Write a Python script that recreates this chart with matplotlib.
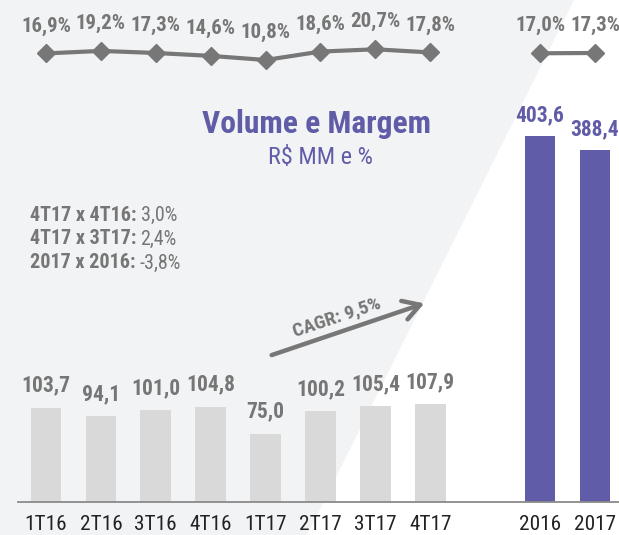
import matplotlib
matplotlib.use("Agg")
import matplotlib.pyplot as plt
from matplotlib.patches import Polygon, FancyArrowPatch
import numpy as np

plt.rcParams['font.family'] = ['Roboto Condensed', 'Roboto', 'DejaVu Sans']

# ---- data ----
quarters = ["1T16", "2T16", "3T16", "4T16", "1T17", "2T17", "3T17", "4T17"]
quarter_volume = [103.7, 94.1, 101.0, 104.8, 75.0, 100.2, 105.4, 107.9]
quarter_margin = [16.9, 19.2, 17.3, 14.6, 10.8, 18.6, 20.7, 17.8]
years = ["2016", "2017"]
year_volume = [403.6, 388.4]
year_margin = [17.0, 17.3]
comparisons = [("4T17 x 4T16:", "3,0%"), ("4T17 x 3T17:", "2,4%"), ("2017 x 2016:", "-3,8%")]
cagr_label = "CAGR: 9,5%"
title = "Volume e Margem"
subtitle = "R$ MM e %"

def br(v, fmt="{:.1f}"):
    return fmt.format(v).replace(".", ",")

GRAY_TXT = "#767676"
PURPLE = "#605ca8"
BAR_GRAY = "#d9d9d9"
BG = "#f2f3f5"

W, H = 619, 535
fig = plt.figure(figsize=(W / 100, H / 100), dpi=100)
fig.patch.set_facecolor("white")

def fx(px):
    return px / W

def fy(py):
    return 1 - py / H

# layout constants (pixels)
X0, DX = 46.0, 54.9          # first category centre, category spacing
BASE, PPU = 501.7, 0.906     # baseline y, pixels per volume unit

ax = fig.add_axes([0, 0, 1, 1])
ax.set_facecolor("none")
ax.set_xlim(-X0 / DX, (W - X0) / DX)
ax.set_ylim(-(H - BASE) / PPU, BASE / PPU)
ax.axis("off")

# background diagonal panel
poly = Polygon([(0, 1), (fx(574), 1), (fx(307), 0), (0, 0)], closed=True,
               transform=fig.transFigure, facecolor=BG, edgecolor="none", zorder=0)
ax.add_patch(poly)

qx = np.arange(len(quarters))
yx = np.array([9, 10])

ax.bar(qx, quarter_volume, width=0.56, color=BAR_GRAY, zorder=2)
ax.bar(yx, year_volume, width=0.56, color=PURPLE, zorder=2)

# baseline
ax.plot([(18 - X0) / DX, (W - X0) / DX], [0, 0], color="#8a8a8a", lw=1.3, zorder=3)

for x, v in zip(qx, quarter_volume):
    ax.annotate(br(v), (x, v), xytext=(0, 11.5), textcoords="offset points",
                ha="center", va="baseline", fontsize=15.5, fontweight="bold", color=GRAY_TXT)
for x, v in zip(yx, year_volume):
    ax.annotate(br(v), (x, v), xytext=(0, 10.5), textcoords="offset points",
                ha="center", va="baseline", fontsize=15.5, fontweight="bold", color=PURPLE)

for x, lab in zip(list(qx) + list(yx), quarters + years):
    ax.annotate(lab, (x, 0), xytext=(0, -23.2), textcoords="offset points",
                ha="center", va="bottom", fontsize=15.3, color="#222222")

# margin line on a second axis
ax2 = fig.add_axes([0, 0, 1, 1], sharex=ax)
ax2.set_facecolor("none")
ax2.axis("off")
MY, MPPU = 49.3, 1.08
ax2.set_ylim(20.7 - (H - MY) / MPPU, 20.7 + MY / MPPU)
lc = "#777777"
ax2.plot(qx, quarter_margin, color=lc, lw=3, marker="D", ms=9, zorder=4)
ax2.plot(yx, year_margin, color=lc, lw=3, marker="D", ms=9, zorder=4)
for x, v in zip(list(qx) + list(yx), quarter_margin + year_margin):
    ax2.annotate(br(v) + "%", (x, v), xytext=(0, 15.8), textcoords="offset points",
                 ha="center", va="baseline", fontsize=15, fontweight="bold", color=GRAY_TXT)

# titles
fig.text(fx(316), fy(133), title, ha="center", va="baseline", fontsize=22.7,
         fontweight="bold", color=PURPLE)
fig.text(fx(320.5), fy(164), subtitle, ha="center", va="baseline", fontsize=17.5,
         color=PURPLE)

# comparison block
fig.canvas.draw()
for i, (lab, val) in enumerate(comparisons):
    yy = fy(220.5 + 24 * i)
    t = fig.text(fx(30), yy, lab, ha="left", va="baseline", fontsize=14.5,
                 fontweight="bold", color=GRAY_TXT)
    bb = t.get_window_extent(renderer=fig.canvas.get_renderer())
    fig.text((bb.x1 + 4) / W, yy, val, ha="left", va="baseline", fontsize=14.5,
             color=GRAY_TXT)

# CAGR arrow
fig.patches.append(FancyArrowPatch(
    (fx(269), fy(356)), (fx(427), fy(302.5)), transform=fig.transFigure,
    arrowstyle="->,head_length=12,head_width=7", color="#777777", lw=3.2,
    mutation_scale=1, zorder=5))
fig.text(fx(337), fy(317), cagr_label, ha="center", va="center", fontsize=14,
         fontweight="bold", color=GRAY_TXT, rotation=18.5)

fig.savefig("out.png", dpi=100, facecolor="white")
